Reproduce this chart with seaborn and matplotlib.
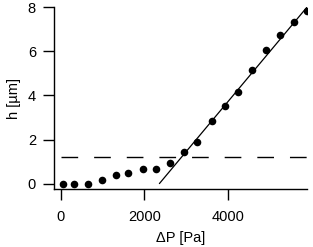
import numpy as np
import pandas as pd
import matplotlib
matplotlib.use('Agg')
import matplotlib.pyplot as plt
import seaborn as sns

dp = [48, 311, 646, 976, 1330, 1617, 1969, 2280, 2614, 2942, 3256,
      3611, 3929, 4248, 4583, 4910, 5245, 5587, 5898]
h = [0.0, 0.0, 0.0, 0.16, 0.39, 0.46, 0.64, 0.64, 0.95, 1.42, 1.91,
     2.83, 3.52, 4.14, 5.16, 6.05, 6.75, 7.33, 7.83]

# linear fit of the high pressure branch
fit_slope = 0.00227
fit_x0 = 2360
fit_xrange = [2360, 5900]

# dashed threshold level
h_thresh = 1.22
thresh_xrange = [0, 5900]

sns.set_style('ticks')
plt.rcParams['font.family'] = ['Liberation Sans', 'DejaVu Sans']
plt.rcParams['font.size'] = 10.5
plt.rcParams['text.color'] = 'black'
plt.rcParams['axes.labelcolor'] = 'black'
plt.rcParams['xtick.color'] = 'black'
plt.rcParams['ytick.color'] = 'black'

df = pd.DataFrame({'dp': dp, 'h': h})
fit = pd.DataFrame({'dp': fit_xrange})
fit['h'] = fit_slope * (fit['dp'] - fit_x0)
thr = pd.DataFrame({'dp': thresh_xrange, 'h': [h_thresh, h_thresh]})

fig = plt.figure(figsize=(3.13, 2.47), dpi=100)
ax = fig.add_axes([0.1725, 0.2336, 0.8085, 0.7384])

sns.lineplot(x='dp', y='h', data=thr, ax=ax, color='black', lw=1.0,
             dashes=False, linestyle=(0, (12, 11.5)))
sns.lineplot(x='dp', y='h', data=fit, ax=ax, color='black', lw=0.9)
sns.scatterplot(x='dp', y='h', data=df, ax=ax, color='black', s=30,
                linewidth=0, zorder=3)

ax.set_xlim(-160, 5890)
ax.set_ylim(-0.26, 8.02)
ax.set_xticks([0, 2000, 4000])
ax.set_yticks([0, 2, 4, 6, 8])
ax.set_xlabel('ΔP [Pa]', labelpad=5)
ax.set_ylabel('h [µm]', labelpad=5)
ax.tick_params(length=8, width=1.0, colors='black')
ax.tick_params(axis='x', pad=7)
ax.tick_params(axis='y', pad=5)
for s in ['left', 'bottom']:
    ax.spines[s].set_linewidth(1.0)
    ax.spines[s].set_color('black')
sns.despine(ax=ax)

plt.savefig('out.png', dpi=100)
plt.close()
